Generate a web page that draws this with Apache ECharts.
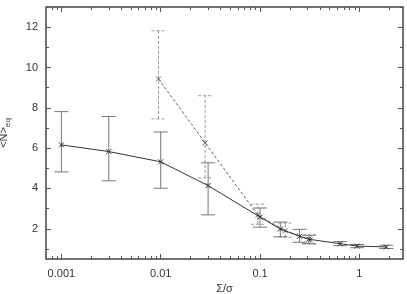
<!DOCTYPE html>
<html><head><meta charset="utf-8">
<script src="https://cdn.jsdelivr.net/npm/echarts@6/dist/echarts.min.js"></script>
<style>html,body{margin:0;padding:0;background:#fff}#c{width:407px;height:294px}</style>
</head><body><div id="c"></div>
<script>
// Data
const solidX  = [0.001, 0.003, 0.01, 0.03, 0.1, 0.16, 0.25, 0.31, 0.64, 0.95, 1.87];
const solidY  = [6.16, 5.83, 5.32, 4.14, 2.58, 1.99, 1.63, 1.48, 1.26, 1.14, 1.10];
const solidLo = [4.82, 4.38, 4.01, 2.69, 2.08, 1.60, 1.33, 1.26, 1.16, 1.06, 1.02];
const solidHi = [7.81, 7.57, 6.80, 5.27, 3.03, 2.33, 1.97, 1.68, 1.36, 1.22, 1.18];

const dashX  = [0.0095, 0.028, 0.095, 0.18, 0.32];
const dashY  = [9.43, 6.26, 2.68, 1.90, 1.45];
const dashLo = [7.45, 4.52, 2.22, 1.58, 1.24];
const dashHi = [11.82, 8.60, 3.22, 2.28, 1.70];

const yTickLabels = [2, 4, 6, 8, 10, 12];
const yMinorTicks = [1, 3, 5, 7, 9, 11, 13];
const xMajorTicks = [0.001, 0.01, 0.1, 1];
const xMinorTicks = [0.0008, 0.0009,
  0.002,0.003,0.004,0.005,0.006,0.007,0.008,0.009,
  0.02,0.03,0.04,0.05,0.06,0.07,0.08,0.09,
  0.2,0.3,0.4,0.5,0.6,0.7,0.8,0.9, 2];

const X_MIN = 0.0007, X_MAX = 2.75, Y_MIN = 0.5, Y_MAX = 13;
const FONT = 'Liberation Sans';
const gridRect = {left: 46, right: 4, top: 7, bottom: 35, outerBoundsMode: 'none', containLabel: false};
const L = Math.log10;

function tickAxisX(gi, pos, vals, len) {
  return {type: 'value', gridIndex: gi, position: pos, min: L(X_MIN), max: L(X_MAX),
    axisLine: {show: false, onZero: false}, splitLine: {show: false}, axisLabel: {show: false},
    axisTick: {show: true, inside: true, length: len, customValues: vals.map(L),
      lineStyle: {color: '#555', width: 1}}};
}
function tickAxisY(gi, pos, vals, len) {
  return {type: 'value', gridIndex: gi, position: pos, min: Y_MIN, max: Y_MAX,
    axisLine: {show: false, onZero: false}, splitLine: {show: false}, axisLabel: {show: false},
    axisTick: {show: true, inside: true, length: len, customValues: vals,
      lineStyle: {color: '#555', width: 1}}};
}

function errRender(color, dash, crossColor) {
  return function (params, api) {
    const x = api.value(0), y = api.value(1), lo = api.value(2), hi = api.value(3);
    const p = api.coord([x, y]), pl = api.coord([x, lo]), ph = api.coord([x, hi]);
    const w = 7, c = 2.5;
    const st = {stroke: color, lineWidth: 1, lineDash: dash};
    const cs = {stroke: crossColor, lineWidth: 1};
    return {type: 'group', children: [
      {type: 'line', shape: {x1: p[0], y1: pl[1], x2: p[0], y2: ph[1]}, style: st},
      {type: 'line', shape: {x1: p[0]-w, y1: pl[1], x2: p[0]+w, y2: pl[1]}, style: st},
      {type: 'line', shape: {x1: p[0]-w, y1: ph[1], x2: p[0]+w, y2: ph[1]}, style: st},
      {type: 'line', shape: {x1: p[0]-c, y1: p[1]-c, x2: p[0]+c, y2: p[1]+c}, style: cs},
      {type: 'line', shape: {x1: p[0]-c, y1: p[1]+c, x2: p[0]+c, y2: p[1]-c}, style: cs}
    ]};
  };
}

const solidErr = solidX.map((x, i) => [x, solidY[i], solidLo[i], solidHi[i]]);
const dashErr = dashX.map((x, i) => [x, dashY[i], dashLo[i], dashHi[i]]);

const chart = echarts.init(document.getElementById('c'), null, {renderer: 'canvas'});
chart.setOption({
  animation: false,
  backgroundColor: '#fff',
  grid: [
    Object.assign({show: true, borderColor: '#444', borderWidth: 1.5, backgroundColor: 'transparent'}, gridRect),
    Object.assign({}, gridRect),
    Object.assign({}, gridRect)
  ],
  xAxis: [
    {type: 'log', gridIndex: 0, position: 'bottom', min: X_MIN, max: X_MAX,
     axisLine: {show: false, onZero: false}, splitLine: {show: false}, axisTick: {show: false}, minorTick: {show: false},
     axisLabel: {showMinLabel: false, showMaxLabel: false, color: '#333', fontFamily: FONT, fontSize: 11, margin: 9},
     name: 'Σ/σ', nameLocation: 'middle', nameGap: 20,
     nameTextStyle: {color: '#333', fontFamily: FONT, fontSize: 11}},
    tickAxisX(1, 'bottom', xMajorTicks, 5),
    tickAxisX(1, 'top', xMajorTicks, 5),
    tickAxisX(2, 'bottom', xMinorTicks, 3),
    tickAxisX(2, 'top', xMinorTicks, 3)
  ],
  yAxis: [
    {type: 'value', gridIndex: 0, position: 'left', min: Y_MIN, max: Y_MAX,
     axisLine: {show: false, onZero: false}, splitLine: {show: false}, axisTick: {show: false},
     axisLabel: {customValues: yTickLabels, color: '#333', fontFamily: FONT, fontSize: 11, margin: 8},
     name: '{a|<N>}{b|eq}', nameLocation: 'middle', nameGap: 34, nameRotate: 90,
     nameTextStyle: {rich: {
       a: {color: '#333', fontFamily: FONT, fontSize: 11, lineHeight: 16, verticalAlign: 'middle'},
       b: {color: '#333', fontFamily: FONT, fontSize: 8, lineHeight: 16, verticalAlign: 'bottom', padding: [6, 0, 0, 0]}
     }}},
    tickAxisY(1, 'left', yTickLabels, 5),
    tickAxisY(1, 'right', yTickLabels, 5),
    tickAxisY(2, 'left', yMinorTicks, 3),
    tickAxisY(2, 'right', yMinorTicks, 3)
  ],
  series: [
    {type: 'line', xAxisIndex: 0, yAxisIndex: 0, data: dashX.map((x, i) => [x, dashY[i]]),
     showSymbol: false, lineStyle: {color: '#666', width: 1, type: [3, 2]}, z: 2},
    {type: 'line', xAxisIndex: 0, yAxisIndex: 0, data: solidX.map((x, i) => [x, solidY[i]]),
     showSymbol: false, lineStyle: {color: '#333', width: 1}, z: 3},
    {type: 'custom', xAxisIndex: 0, yAxisIndex: 0, data: dashErr, encode: {x: 0, y: [1, 2, 3]},
     renderItem: errRender('#999', [3, 2], '#666'), z: 2},
    {type: 'custom', xAxisIndex: 0, yAxisIndex: 0, data: solidErr, encode: {x: 0, y: [1, 2, 3]},
     renderItem: errRender('#777', null, '#333'), z: 3}
  ]
});
</script>
</body></html>
